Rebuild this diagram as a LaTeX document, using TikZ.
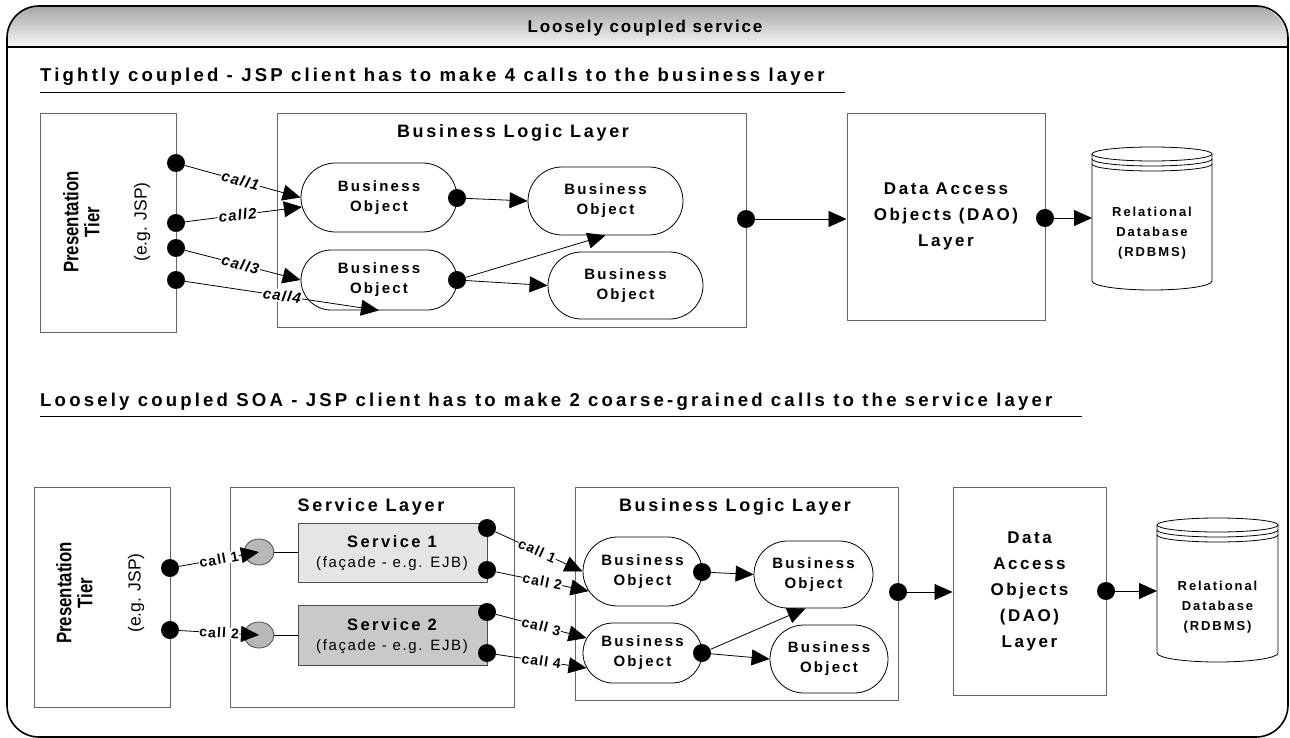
\documentclass[tikz,border=0pt]{standalone}
\usepackage{fontspec}
\setmainfont{Liberation Sans}
\newfontfamily\lsfont[LetterSpace=15]{Liberation Sans}
\newfontfamily\lsfontm[LetterSpace=11]{Liberation Sans}
\newfontfamily\lsfonts[LetterSpace=17]{Liberation Sans}
\newfontfamily\lsfontc[LetterSpace=8]{Liberation Sans}
\usetikzlibrary{arrows.meta,shapes.misc,shapes.geometric,calc}
\newcommand{\ttlfont}{\lsfontm\bfseries\fontsize{17}{20}\selectfont}
\newcommand{\hdfont}{\lsfonts\bfseries\fontsize{18.6}{21}\selectfont}
\newcommand{\layerfont}{\lsfont\bfseries\fontsize{18}{22}\selectfont}
\newcommand{\objfont}{\lsfont\bfseries\fontsize{15}{20}\selectfont}
\newcommand{\daofont}{\lsfont\bfseries\fontsize{17}{26}\selectfont}
\newcommand{\dbfont}{\lsfont\bfseries\fontsize{13}{20}\selectfont}
\newcommand{\presfont}{\bfseries\fontsize{21}{24}\selectfont}
\newcommand{\egfont}{\fontsize{17.5}{20}\selectfont}
\newcommand{\callfont}{\lsfontc\bfseries\itshape\fontsize{15}{17}\selectfont}
\newcommand{\callfontb}{\lsfontc\bfseries\fontsize{14}{16}\selectfont}
\newcommand{\svcfont}{\lsfont\bfseries\fontsize{16.5}{21}\selectfont}
\newcommand{\facfont}{\lsfontm\fontsize{15}{21}\selectfont}
\newcommand{\prestext}{\scalebox{0.8}[1]{\begin{tabular}{@{}c@{}}Presentation\\[-3pt]Tier\end{tabular}}}
\begin{document}
\begin{tikzpicture}[x=1pt,y=-1pt,
  box/.style={draw=black!60,line width=0.9pt,fill=white,inner sep=0pt},
  obj/.style={rounded rectangle,draw=black,line width=0.8pt,fill=white,inner sep=0pt,align=center,font=\objfont},
  dot/.style={circle,fill=black,minimum size=18pt,inner sep=0pt},
  iface/.style={ellipse,draw=black!70,line width=0.8pt,fill=black!28,minimum width=30pt,minimum height=26pt,inner sep=0pt},
  con/.style={line width=0.8pt,-{Triangle[length=18pt,width=16pt]}},
  plain/.style={line width=0.8pt},
  lbl/.style={fill=white,inner sep=1pt,sloped,font=\callfont},
  lblb/.style={fill=white,inner sep=0.5pt,sloped,font=\callfontb},
  cyl/.style={draw=black,line width=0.8pt,fill=white}
]
\useasboundingbox (0,0) rectangle (1290,738);
% frame and header
\path[top color=black!35,bottom color=black!3] (7,47) -- (7,36) arc[start angle=180,end angle=90,radius=30pt] -- (1252,6) arc[start angle=90,end angle=0,radius=36pt] -- (1288,47) -- cycle;
\draw[line width=1.6pt,rounded corners=32pt] (7,6) rectangle (1288,737);
\draw[line width=1.6pt] (7,47) -- (1288,47);
\node[font=\ttlfont,anchor=base] (title) at (645,33) {Loosely coupled service};

% subtitles
\node[font=\hdfont,anchor=base west,inner sep=0pt] (sub1) at (40,82) {Tightly coupled - JSP client has to make 4 calls to the business layer};
\draw[line width=0.8pt] (40,92) -- (845,92);
\node[font=\hdfont,anchor=base west,inner sep=0pt] (sub2) at (40,406) {Loosely coupled SOA - JSP client has to make 2 coarse-grained calls to the service layer};
\draw[line width=0.8pt] (40,416) -- (1082,416);

% ===== top section =====
\node[box,minimum width=136pt,minimum height=219pt] (pres1) at (108,222.5) {};
\node[font=\presfont,rotate=90,inner sep=0pt] (pres1t) at (84,222) {\prestext};
\node[font=\egfont,rotate=90] (pres1e) at (142,222) {(e.g. JSP)};

\node[box,minimum width=469pt,minimum height=214pt] (bll1) at (511.5,220) {};
\node[font=\layerfont] (bll1t) at (513,133) {Business Logic Layer};
\node[obj,minimum width=156pt,minimum height=69pt] (bo1) at (379,197.5) {Business\\Object};
\node[obj,minimum width=155pt,minimum height=68pt] (bo2) at (605.5,201) {Business\\Object};
\node[obj,minimum width=156pt,minimum height=60pt] (bo3) at (379,280) {Business\\Object};
\node[obj,minimum width=155pt,minimum height=67pt] (bo4) at (625.5,285.5) {Business\\Object};

\node[box,minimum width=198pt,minimum height=207pt,align=center,font=\daofont] (dao1) at (946,216.5) {Data Access\\Objects (DAO)\\Layer};

% database 1
\draw[cyl] (1092,154) -- (1092,281) arc[start angle=180,end angle=360,x radius=60pt,y radius=9pt] -- (1212,154) arc[start angle=0,end angle=180,x radius=60pt,y radius=7pt] -- cycle;
\draw[plain] (1092,154) arc[start angle=180,end angle=360,x radius=60pt,y radius=7pt];
\draw[plain] (1092,159) arc[start angle=180,end angle=360,x radius=60pt,y radius=7pt];
\draw[plain] (1092,164) arc[start angle=180,end angle=360,x radius=60pt,y radius=7pt];
\coordinate (db1) at (1092,218);
\node[font=\dbfont,align=center] (db1t) at (1152,233) {Relational\\Database\\(RDBMS)};

% dots top
\node[dot] (d1) at (176,163) {};
\node[dot] (d2) at (176,223) {};
\node[dot] (d3) at (176,248) {};
\node[dot] (d4) at (176,280) {};
\node[dot] (bo1d) at (457,198) {};
\node[dot] (bo3d) at (457,280) {};
\node[dot] (bll1d) at (746,219) {};
\node[dot] (dao1d) at (1045,218) {};

% connectors top
\draw[con] (d1) -- node[lbl,pos=0.48] {call1} (bo1.west);
\draw[con] (d2) -- node[lbl,pos=0.45] {call2} (bo1.187);
\draw[con] (d3) -- node[lbl,pos=0.48] {call3} (bo3.west);
\draw[con] (d4) -- node[lbl,pos=0.5] {call4} (bo3.south);
\draw[con] (bo1d) -- (bo2.west);
\draw[con] (bo3d) -- (bo2.south);
\draw[con] (bo3d) -- (bo4.west);
\draw[con] (bll1d) -- (dao1.west |- bll1d);
\draw[con] (dao1d) -- (db1);

% ===== bottom section =====
\node[box,minimum width=136pt,minimum height=220pt] (pres2) at (102,597) {};
\node[font=\presfont,rotate=90,inner sep=0pt] (pres2t) at (77,593) {\prestext};
\node[font=\egfont,rotate=90] (pres2e) at (136,593) {(e.g. JSP)};

\node[box,minimum width=284pt,minimum height=220pt] (svl) at (372,597) {};
\node[font=\layerfont] (svlt) at (371,507) {Service Layer};
\node[box,draw=black!70,fill=black!10,minimum width=189pt,minimum height=59pt] (s1) at (392.5,552.5) {};
\node[font=\svcfont] (s1a) at (392,542) {Service 1};
\node[font=\facfont] (s1b) at (392,564) {(façade - e.g. EJB)};
\node[box,draw=black!70,fill=black!21,minimum width=189pt,minimum height=60pt] (s2) at (392.5,635) {};
\node[font=\svcfont] (s2a) at (392,625) {Service 2};
\node[font=\facfont] (s2b) at (392,647) {(façade - e.g. EJB)};
\node[iface] (i1) at (259,552) {};
\node[iface] (i2) at (259,635) {};
\draw[plain] (i1) -- (s1.west |- i1);
\draw[plain] (i2) -- (s2.west |- i2);

\node[box,minimum width=323pt,minimum height=213pt] (bll2) at (736.5,593.5) {};
\node[font=\layerfont] (bll2t) at (735,507) {Business Logic Layer};
\node[obj,minimum width=119pt,minimum height=69pt] (ba) at (642.5,571.5) {Business\\Object};
\node[obj,minimum width=119pt,minimum height=67pt] (bb) at (813.5,574.5) {Business\\Object};
\node[obj,minimum width=119pt,minimum height=60pt] (bc) at (642.5,653) {Business\\Object};
\node[obj,minimum width=118pt,minimum height=68pt] (bd) at (829,659) {Business\\Object};

\node[box,minimum width=153pt,minimum height=208pt,align=center,font=\daofont] (dao2) at (1029.5,591) {Data\\Access\\Objects\\(DAO)\\Layer};

% database 2
\draw[cyl] (1157,525) -- (1157,653) arc[start angle=180,end angle=360,x radius=60.5pt,y radius=9pt] -- (1278,525) arc[start angle=0,end angle=180,x radius=60.5pt,y radius=7pt] -- cycle;
\draw[plain] (1157,525) arc[start angle=180,end angle=360,x radius=60.5pt,y radius=7pt];
\draw[plain] (1157,530) arc[start angle=180,end angle=360,x radius=60.5pt,y radius=7pt];
\draw[plain] (1157,535) arc[start angle=180,end angle=360,x radius=60.5pt,y radius=7pt];
\coordinate (db2) at (1157,591);
\node[font=\dbfont,align=center] (db2t) at (1217.5,607) {Relational\\Database\\(RDBMS)};

% dots bottom
\node[dot] (p1) at (170,568) {};
\node[dot] (p2) at (170,630) {};
\node[dot] (s1d1) at (487,528) {};
\node[dot] (s1d2) at (487,570) {};
\node[dot] (s2d1) at (487,612) {};
\node[dot] (s2d2) at (487,653) {};
\node[dot] (bad) at (702,572) {};
\node[dot] (bcd) at (702,653) {};
\node[dot] (bll2d) at (898,592) {};
\node[dot] (dao2d) at (1106,591) {};

% connectors bottom
\draw[con] (p1) -- node[lblb,pos=0.5] {call 1} (i1.center);
\draw[con] (p2) -- node[lblb,pos=0.5] {call 2} (i2.center);
\draw[con] (s1d1) -- node[lblb,pos=0.48] {call 1} (ba.west);
\draw[con] (s1d2) -- node[lblb,pos=0.5] {call 2} (ba.200);
\draw[con] (s2d1) -- node[lblb,pos=0.5] {call 3} (bc.165);
\draw[con] (s2d2) -- node[lblb,pos=0.5] {call 4} (bc.195);
\draw[con] (bad) -- (bb.west);
\draw[con] (bcd) -- ($(bb.south)+(-8,0)$);
\draw[con] (bcd) -- (bd.west);
\draw[con] (bll2d) -- (dao2.west |- bll2d);
\draw[con] (dao2d) -- (db2);
\end{tikzpicture}
\end{document}
